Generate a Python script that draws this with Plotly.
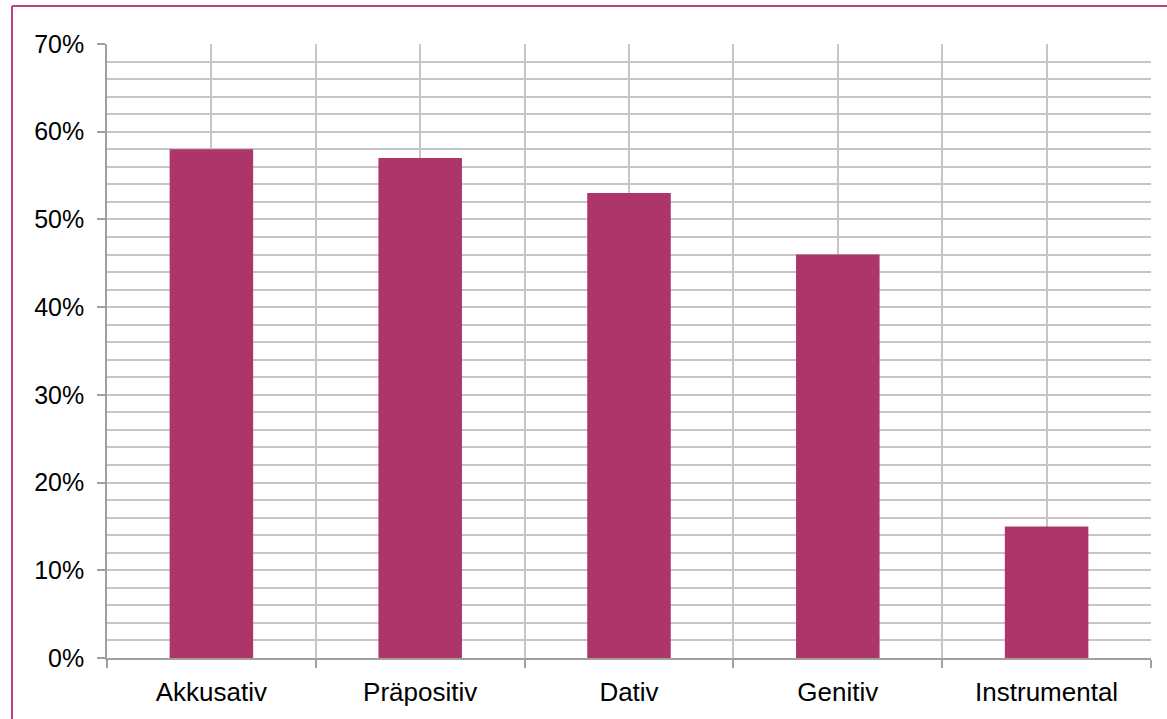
import plotly.graph_objects as go

categories = ["Akkusativ", "Präpositiv", "Dativ", "Genitiv", "Instrumental"]
values = [0.58, 0.57, 0.53, 0.46, 0.15]

bar_color = "#AD3569"
grid_color = "#C6C6C6"
axis_color = "#A0A0A0"
border_color = "#C2407F"

W, H = 1167, 719
ml, mr, mt, mb = 107, 16, 44, 61
pw, ph = W - ml - mr, H - mt - mb

n = len(categories)
xpos = list(range(n))
boundaries = [i - 0.5 for i in range(n + 1)]

fig = go.Figure(go.Bar(
    x=xpos, y=values, marker=dict(color=bar_color, line=dict(width=0)),
    width=0.4, hoverinfo="skip",
))

xfont = dict(family="Liberation Sans, Arial, sans-serif", size=26, color="#000000")
yfont = dict(family="Liberation Sans, Arial, sans-serif", size=25, color="#000000")

fig.update_layout(
    width=W, height=H,
    margin=dict(l=ml, r=mr, t=mt, b=mb, pad=0),
    paper_bgcolor="white", plot_bgcolor="white",
    showlegend=False,
    font=xfont,
    xaxis=dict(
        range=[-0.5, n - 0.5],
        tickmode="array", tickvals=xpos, ticktext=categories,
        ticks="", showgrid=True, gridcolor=grid_color, gridwidth=1.5,
        showline=True, linecolor=axis_color, linewidth=2,
        zeroline=False, tickfont=xfont, ticklabelstandoff=10,
        minor=dict(tickmode="array", tickvals=boundaries, ticks="outside",
                   ticklen=8, tickcolor=axis_color, tickwidth=1.5,
                   showgrid=True, gridcolor=grid_color, gridwidth=1.5),
        fixedrange=True,
    ),
    yaxis=dict(
        range=[0, 0.7], tickmode="linear", tick0=0, dtick=0.1,
        tickformat=".0%", ticks="outside", ticklen=8, tickcolor=axis_color,
        tickwidth=1.5,
        showgrid=True, gridcolor=grid_color, gridwidth=1.5,
        showline=True, linecolor=axis_color, linewidth=1.5,
        zeroline=False, tickfont=yfont, ticklabelstandoff=8,
        minor=dict(dtick=0.02, tick0=0, showgrid=True, gridcolor=grid_color,
                   gridwidth=1.5, ticks=""),
        fixedrange=True,
    ),
)

# Pink frame visible on the left and top edges of the picture
x_left = (12 - ml) / pw
y_top = 1 + (mt - 6) / ph
fig.add_shape(type="line", xref="paper", yref="paper",
              x0=x_left, x1=x_left, y0=y_top, y1=-(mb + 10) / ph,
              line=dict(color=border_color, width=2))
fig.add_shape(type="line", xref="paper", yref="paper",
              x0=x_left, x1=1 + (mr + 10) / pw, y0=y_top, y1=y_top,
              line=dict(color=border_color, width=2))

fig.write_html("out.html", config={"displayModeBar": False})
